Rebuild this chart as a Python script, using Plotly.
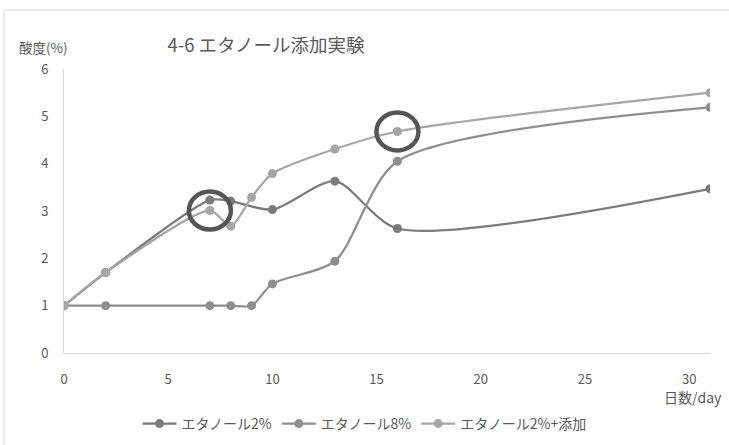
import plotly.graph_objects as go

days = [0, 2, 7, 8, 9, 10, 13, 16, 31]
days_s1 = [0, 2, 7, 8, 10, 13, 16, 31]
acid_2pct = [1.0, 1.70, 3.23, 3.21, 3.03, 3.63, 2.63, 3.47]
acid_8pct = [1.0, 1.0, 1.0, 1.0, 1.0, 1.46, 1.94, 4.05, 5.19]
acid_2pct_add = [1.0, 1.70, 3.01, 2.68, 3.29, 3.79, 4.31, 4.68, 5.50]
names = ["エタノール2%", "エタノール8%", "エタノール2%+添加"]
colors = ["#7b7b7b", "#8e8e8e", "#a6a6a6"]
x_ticks = [0, 5, 10, 15, 20, 25, 30]
y_ticks = [0, 1, 2, 3, 4, 5, 6]
highlight_idx = [2, 7]  # indices in acid_2pct_add circled

FONT = "Noto Sans CJK JP"
TXT = "#595959"

fig = go.Figure()
for xs, ys, nm, c in [(days_s1, acid_2pct, names[0], colors[0]),
                      (days, acid_8pct, names[1], colors[1]),
                      (days, acid_2pct_add, names[2], colors[2])]:
    fig.add_trace(go.Scatter(
        x=xs, y=ys, name=nm, mode="lines+markers",
        line=dict(color=c, width=2.25, shape="spline", smoothing=0.75),
        marker=dict(color=c, size=9, symbol="circle"),
    ))

shapes = []
for i in highlight_idx:
    shapes.append(dict(
        type="circle", xref="x", yref="y",
        xsizemode="pixel", ysizemode="pixel",
        xanchor=days[i], yanchor=acid_2pct_add[i],
        x0=-21, x1=21, y0=-19, y1=19,
        line=dict(color="#555555", width=4.5), fillcolor="rgba(0,0,0,0)",
    ))
# chart-area border
shapes.append(dict(type="rect", xref="paper", yref="paper",
                   x0=(4 - 64) / 646, x1=1.2, y0=-0.6, y1=(353 - 10) / 284,
                   line=dict(color="#d9d9d9", width=1), layer="below"))

fig.update_layout(
    width=729, height=445,
    margin=dict(l=64, r=19, t=69, b=92),
    paper_bgcolor="white", plot_bgcolor="white",
    font=dict(family=FONT, color=TXT, size=13),
    title=dict(text="4-6 エタノール添加実験", xref="container", yref="container",
               x=266 / 729, xanchor="center", y=1 - 46 / 445, yanchor="middle",
               font=dict(size=18.5, color=TXT, family=FONT)),
    xaxis=dict(range=[0, 31], tickvals=x_ticks, showgrid=False, zeroline=False,
               showline=True, linecolor="#d9d9d9", linewidth=1, ticks="",
               tickfont=dict(size=13, color=TXT), ticklabelstandoff=14),
    yaxis=dict(range=[0, 6], tickvals=y_ticks, showgrid=False, zeroline=False,
               showline=True, linecolor="#d9d9d9", linewidth=1, ticks="",
               tickfont=dict(size=13, color=TXT), ticklabelstandoff=12),
    legend=dict(orientation="h", xref="container", x=0.5, xanchor="center",
                yref="container", y=1 - 424 / 445, yanchor="middle",
                font=dict(size=14, color=TXT), itemwidth=34,
                bgcolor="rgba(0,0,0,0)"),
    shapes=shapes,
    annotations=[
        dict(text="酸度(%)", xref="paper", yref="paper",
             x=(17 - 64) / 646, xanchor="left", y=(353 - 47) / 284, yanchor="middle",
             showarrow=False, font=dict(size=13.5, color=TXT)),
        dict(text="日数/day", xref="paper", yref="paper",
             x=(724 - 64) / 646, xanchor="right", y=(353 - 397) / 284, yanchor="middle",
             showarrow=False, font=dict(size=14, color=TXT)),
    ],
    showlegend=True,
)

fig.write_html("out.html")
